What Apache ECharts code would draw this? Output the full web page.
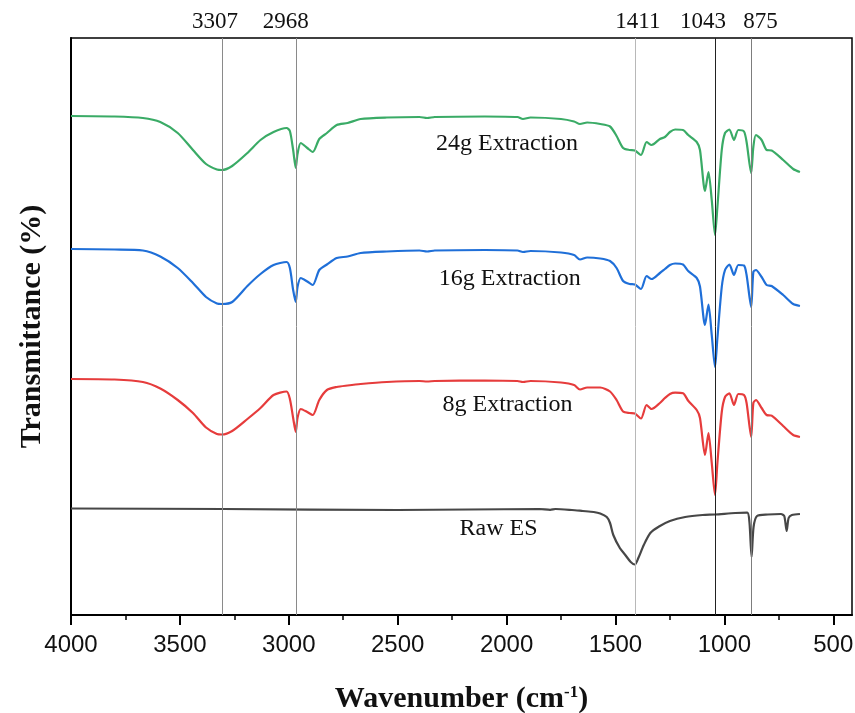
<!DOCTYPE html>
<html>
<head>
    <meta charset="utf-8">
    <title>FTIR spectra</title>
    <script src="https://cdn.jsdelivr.net/npm/echarts@6/dist/echarts.min.js"></script>
</head>
<body style="margin:0;">
<div id="main" style="width:855px;height:713px;"></div>
<script type="text/javascript">
    // wavenumbers (cm-1) where the three extraction spectra were read
    var wavenumbers = [4000, 3800, 3670, 3590, 3510, 3440, 3380, 3330, 3307, 3260, 3190, 3130, 3070, 3010,
        2995, 2980, 2968, 2960, 2945, 2915, 2890, 2860, 2825, 2780, 2730, 2670, 2550, 2400, 2365, 2330,
        2100, 1950, 1925, 1890, 1750, 1690, 1663, 1630, 1570, 1525, 1495, 1465, 1435, 1411, 1383, 1357,
        1334, 1296, 1273, 1250, 1226, 1190, 1166, 1127, 1112, 1089, 1073, 1058, 1043, 1032, 1012, 997,
        977, 956, 936, 910, 898, 877, 867, 855, 829, 806, 783, 730, 684, 653];

    // transmittance, stacked with offsets (a.u.)
    var ext24g = [499, 498.5, 497, 493, 482, 465, 451, 445.5, 445, 449, 462, 475, 483, 487,
        484, 465, 447, 461, 472, 467, 463, 476, 482, 490, 492, 496, 497.5, 498, 497, 498,
        498.5, 498, 496, 497.5, 496, 493.5, 491, 492.5, 491, 488.5, 479, 467, 465, 464.5, 460, 473,
        470, 476, 478, 483, 485.5, 485, 480, 473, 465, 424, 443, 415, 380, 408, 465, 482,
        485.5, 475, 485, 483.5, 473, 442, 468, 480, 475, 465, 464.5, 455, 446, 443];

    var ext16g = [366, 365.5, 364.5, 358.5, 347, 332, 318, 311.5, 311, 313, 329, 341, 350, 353,
        347, 325, 313, 328, 337, 333.5, 330, 345, 350.5, 357, 358.5, 362, 363.5, 364.5, 363.5, 364.5,
        365, 364.5, 363, 364, 362.5, 360, 355.5, 357.5, 356.5, 354, 347, 334, 331, 330.5, 326, 339,
        336, 342, 346, 350, 351.5, 350.5, 344, 337, 328.5, 290, 310.5, 280, 248, 277, 328, 345,
        350.5, 340, 350, 349.5, 340, 308, 343, 345, 338, 330, 329, 320, 311, 309];

    var ext8g = [236, 235.5, 233, 226.5, 215, 202, 187.5, 181, 180.5, 184, 196, 207, 220, 223.5,
        216, 197, 183, 197, 206, 203, 200, 215, 225, 228, 229.5, 231, 233, 234, 233.5, 234,
        234.5, 234, 233, 234, 232.5, 230, 225.5, 227.5, 227.5, 223.5, 215, 203.5, 202, 201.5, 196.5, 210,
        206, 212, 217, 221, 222.3, 221.7, 214.3, 205, 197, 160, 182, 152, 120, 152, 203, 218,
        221.7, 210, 221, 220, 212, 178, 212, 215, 207, 200, 199.3, 189, 180, 178];

    var rawWavenumbers = [4000, 3300, 2500, 1850, 1800, 1775, 1700, 1650, 1600, 1570, 1540, 1525, 1510,
        1480, 1455, 1430, 1411, 1395, 1370, 1340, 1300, 1250, 1180, 1100, 1043, 950, 895, 885, 875,
        866, 850, 800, 740, 725, 714, 705, 690, 653];
    var rawES = [106.5, 106, 105, 106, 105.2, 106, 105, 104, 103, 101.5, 98, 92, 80,
        67, 60, 53, 50.5, 57, 70, 82, 88.5, 94, 98, 100, 100.5, 102, 102.3, 93, 58,
        88, 99, 100.5, 101, 99, 84, 97, 100, 101];

    var majorTicks = [500, 1000, 1500, 2000, 2500, 3000, 3500, 4000];
    var minorTicks = [750, 1250, 1750, 2250, 2750, 3250, 3750];
    var bandPositions = [3307, 2968, 1411, 1043, 875];
    var bandColors = ['#8a8a8a', '#8a8a8a', '#b8b8b8', '#222222', '#7d7d7d'];
    var bandLabelShift = [-7, -10, 3, -12, 9];

    var names = ['24g Extraction', '16g Extraction', '8g Extraction', 'Raw ES'];
    var colors = ['#3aab66', '#1f6fd8', '#e63c3c', '#474747'];
    var labelPos = [[1998, 471], [1985, 336], [1996, 210], [2037, 86]];

    var serif = 'Liberation Serif';

    var pairs = function (xs, ys) {
        var out = [];
        for (var i = 0; i < xs.length; i++) {
            out.push([xs[i], ys[i]]);
        }
        return out;
    };

    var bandLines = [];
    for (var i = 0; i < bandPositions.length; i++) {
        bandLines.push({
            name: String(bandPositions[i]),
            xAxis: bandPositions[i],
            lineStyle: {color: bandColors[i], width: 1, type: 'solid'},
            label: {offset: [bandLabelShift[i], 0]}
        });
    }

    var makeSeries = function (idx, data) {
        return {
            name: names[idx],
            type: 'line',
            xAxisIndex: 0,
            data: data,
            smooth: 0.25,
            symbol: 'none',
            lineStyle: {color: colors[idx], width: 2.2},
            itemStyle: {color: colors[idx]},
            markPoint: {
                silent: true,
                symbol: 'circle',
                symbolSize: 1,
                itemStyle: {color: 'rgba(0,0,0,0)'},
                label: {
                    show: true,
                    position: 'inside',
                    formatter: names[idx],
                    color: '#111',
                    fontFamily: serif,
                    fontSize: 24
                },
                data: [{coord: labelPos[idx]}]
            }
        };
    };

    var series = [
        makeSeries(0, pairs(wavenumbers, ext24g)),
        makeSeries(1, pairs(wavenumbers, ext16g)),
        makeSeries(2, pairs(wavenumbers, ext8g)),
        makeSeries(3, pairs(rawWavenumbers, rawES))
    ];
    series[3].markLine = {
        silent: true,
        symbol: ['none', 'none'],
        label: {
            show: true,
            position: 'end',
            distance: 5,
            formatter: '{b}',
            color: '#111',
            fontFamily: serif,
            fontSize: 23
        },
        data: bandLines
    };

    var chart = echarts.init(document.getElementById('main'));
    var option = {
        animation: false,
        backgroundColor: '#fff',
        grid: {
            left: 71,
            right: 3,
            top: 38,
            bottom: 98,
            containLabel: false,
            outerBoundsMode: 'none',
            show: true,
            borderColor: '#000',
            borderWidth: 1.5
        },
        xAxis: [
            {
                type: 'value',
                inverse: true,
                min: 414,
                max: 4000,
                position: 'bottom',
                name: '{t|Wavenumber (cm}{s|-1}{t|)}',
                nameLocation: 'middle',
                nameGap: 69,
                nameTextStyle: {
                    rich: {
                        t: {fontFamily: serif, fontWeight: 'bold', fontSize: 30, color: '#111'},
                        s: {fontFamily: serif, fontWeight: 'bold', fontSize: 17, color: '#111', verticalAlign: 'top', padding: [0, 0, 12, 0]}
                    }
                },
                axisLine: {show: true, onZero: false, lineStyle: {color: '#000', width: 2}},
                axisTick: {show: true, inside: false, length: 10, customValues: majorTicks, lineStyle: {color: '#000', width: 2}},
                axisLabel: {
                    show: true,
                    customValues: majorTicks,
                    margin: 18,
                    fontFamily: 'Liberation Sans',
                    fontSize: 24,
                    color: '#111',
                    formatter: function (v) { return String(v); }
                },
                splitLine: {show: false}
            },
            {
                type: 'value',
                inverse: true,
                min: 414,
                max: 4000,
                position: 'bottom',
                axisLine: {show: false, onZero: false},
                axisTick: {show: true, inside: false, length: 5, customValues: minorTicks, lineStyle: {color: '#000', width: 1.5}},
                axisLabel: {show: false},
                splitLine: {show: false}
            }
        ],
        yAxis: {
            type: 'value',
            min: 0,
            max: 577,
            name: 'Transmittance (%)',
            nameLocation: 'middle',
            nameGap: 24,
            nameTextStyle: {fontFamily: serif, fontWeight: 'bold', fontSize: 30, color: '#111'},
            axisLine: {show: true, lineStyle: {color: '#000', width: 2}},
            axisTick: {show: false},
            axisLabel: {show: false},
            splitLine: {show: false}
        },
        series: series
    };
    chart.setOption(option);
</script>
</body>
</html>
